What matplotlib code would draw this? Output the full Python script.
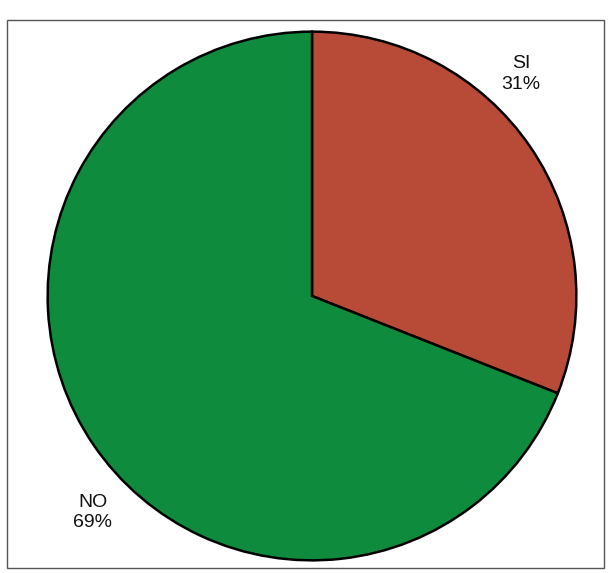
import matplotlib.pyplot as plt
from matplotlib.patches import Rectangle

labels = ['SI', 'NO']
values = [31, 69]
colors = ['#B84A38', '#0F8B3D']

fig = plt.figure(figsize=(6.12, 5.73), dpi=100)
fig.patch.set_facecolor('white')

# outer frame of the scanned chart
fig.patches.append(Rectangle((7 / 612, 5 / 573), 597 / 612, 548 / 573,
                             transform=fig.transFigure, fill=False,
                             edgecolor='#555555', linewidth=1.0))

ax = fig.add_axes([45 / 612, 10 / 573, 534 / 612, 534 / 573])
ax.pie(values, colors=colors, startangle=90, counterclock=False,
       wedgeprops={'edgecolor': 'black', 'linewidth': 1.8})
ax.set_xlim(-1.01, 1.01)
ax.set_ylim(-1.01, 1.01)
ax.set_aspect('equal')
ax.axis('off')

label_pos = [(0.79, 0.84), (-0.83, -0.82)]
for lab, val, (x, y) in zip(labels, values, label_pos):
    ax.text(x, y, '%s\n%d%%' % (lab, val), ha='center', va='center',
            fontsize=14, family='Liberation Sans', color='#111111',
            linespacing=1.25)

fig.savefig('out.png', dpi=100)
